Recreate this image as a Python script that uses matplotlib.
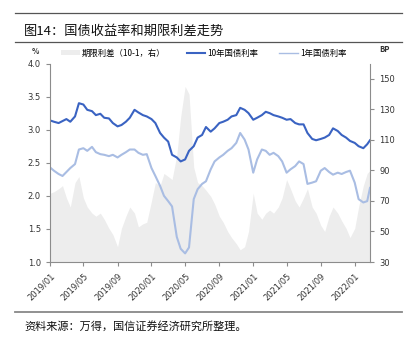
import matplotlib
matplotlib.use("Agg")
import matplotlib.pyplot as plt
import matplotlib.dates as mdates
from matplotlib.lines import Line2D
from matplotlib.patches import Patch
import pandas as pd

plt.rcParams['font.family'] = ['Noto Sans CJK SC', 'DejaVu Sans']

dates = list(pd.date_range('2019-01-01', '2022-02-15', freq='SMS')) + [pd.Timestamp('2022-02-25')]

ten_year = [3.14, 3.12, 3.10, 3.13, 3.16, 3.12, 3.20, 3.40, 3.38, 3.30,
            3.28, 3.22, 3.24, 3.18, 3.17, 3.10, 3.05, 3.07, 3.12, 3.18,
            3.30, 3.26, 3.22, 3.20, 3.16, 3.10, 2.95, 2.88, 2.82, 2.62,
            2.58, 2.52, 2.55, 2.68, 2.75, 2.88, 2.92, 3.04, 2.97, 3.02,
            3.10, 3.12, 3.15, 3.20, 3.22, 3.33, 3.30, 3.25, 3.15, 3.18,
            3.22, 3.27, 3.25, 3.22, 3.20, 3.18, 3.15, 3.16, 3.10, 3.08,
            3.08, 2.95, 2.86, 2.84, 2.86, 2.88, 2.92, 3.02, 2.98, 2.92,
            2.88, 2.83, 2.80, 2.75, 2.72, 2.78, 2.84]

one_year = [2.43, 2.38, 2.33, 2.30, 2.36, 2.42, 2.48, 2.70, 2.72, 2.68,
            2.74, 2.66, 2.63, 2.62, 2.60, 2.62, 2.58, 2.62, 2.66, 2.70,
            2.70, 2.65, 2.62, 2.63, 2.42, 2.30, 2.15, 2.00, 1.92, 1.84,
            1.38, 1.20, 1.13, 1.22, 1.95, 2.10, 2.18, 2.22, 2.40, 2.52,
            2.58, 2.62, 2.68, 2.72, 2.80, 2.95, 2.85, 2.70, 2.35, 2.55,
            2.70, 2.68, 2.62, 2.65, 2.60, 2.52, 2.35, 2.40, 2.45, 2.52,
            2.48, 2.18, 2.20, 2.22, 2.38, 2.42, 2.36, 2.32, 2.35, 2.33,
            2.36, 2.38, 2.20, 1.95, 1.90, 1.92, 2.12]

spread_bp = [75, 76, 78, 80, 72, 66, 82, 86, 72, 66,
             62, 60, 62, 58, 52, 48, 40, 52, 60, 66,
             62, 53, 55, 56, 70, 82, 80, 88, 86, 84,
             100, 125, 145, 140, 92, 82, 80, 77, 73, 68,
             60, 56, 50, 46, 42, 38, 40, 50, 75, 62,
             58, 62, 64, 62, 66, 72, 84, 78, 70, 66,
             72, 78, 66, 62, 54, 50, 60, 66, 62, 57,
             52, 46, 52, 66, 80, 88, 90]

tick_dates = pd.date_range('2019-01-01', '2022-01-01', freq='4MS')
tick_labels = [d.strftime('%Y/%m') for d in tick_dates]

left_ticks = [1.0, 1.5, 2.0, 2.5, 3.0, 3.5, 4.0]
right_ticks = [30, 50, 70, 90, 110, 130, 150]

c10 = '#3a63c2'
c1 = '#a9bde3'
cfill = '#ededed'
axis_c = '#8c8c8c'

fig = plt.figure(figsize=(4.1, 3.4), dpi=100)
ax = fig.add_axes([50/410, 1-262/340, 320/410, (262-63.5)/340])
ax2 = ax.twinx()

ax2.fill_between(dates, 30, spread_bp, color=cfill, linewidth=0, step=None)
ax2.set_ylim(30, 160)
ax2.set_yticks(right_ticks)

ax.plot(dates, ten_year, color=c10, linewidth=1.5)
ax.plot(dates, one_year, color=c1, linewidth=1.5)
ax.set_ylim(1.0, 4.0)
ax.set_yticks(left_ticks)
ax.set_yticklabels([f'{v:.1f}' for v in left_ticks])
ax.set_xlim(pd.Timestamp('2019-01-01'), pd.Timestamp('2022-02-25'))
ax.set_xticks(tick_dates)
ax.set_xticklabels(tick_labels, rotation=45, ha='right', rotation_mode='anchor')

ax.set_zorder(ax2.get_zorder() + 1)
ax.patch.set_visible(False)

for a in (ax, ax2):
    a.spines['top'].set_visible(False)
    for s in ('left', 'right', 'bottom'):
        a.spines[s].set_color(axis_c)
        a.spines[s].set_linewidth(0.8)
    a.tick_params(colors=axis_c, labelcolor='#333333', labelsize=6, length=3, width=0.8, direction='out')
ax.spines['right'].set_visible(False)
ax2.spines['left'].set_visible(False)
ax2.spines['bottom'].set_visible(False)
for lab in ax.get_xticklabels() + ax.get_yticklabels() + ax2.get_yticklabels():
    lab.set_family('DejaVu Sans')

# header / footer
fig.add_artist(Line2D([15/410, 402/410], [1-13/340, 1-13/340], color='#555555', linewidth=0.9))
fig.add_artist(Line2D([15/410, 402/410], [1-42/340, 1-42/340], color='#555555', linewidth=0.9))
fig.add_artist(Line2D([15/410, 402/410], [1-312/340, 1-312/340], color='#888888', linewidth=1.3))
fig.text(24/410, 1-31.5/340, '图14：国债收益率和期限利差走势', fontsize=9.5, va='center', ha='left', color='#111111')
fig.text(24/410, 1-326/340, '资料来源：万得，国信证券经济研究所整理。', fontsize=8, va='center', ha='left', color='#111111')
fig.text(35/410, 1-51/340, '%', fontsize=5.5, va='center', ha='center', color='#333333', fontweight='bold')
fig.text(385/410, 1-50/340, 'BP', fontsize=5.5, va='center', ha='center', color='#333333', fontweight='bold')

handles = [Patch(facecolor=cfill, edgecolor='none'),
           Line2D([], [], color=c10, linewidth=1.5),
           Line2D([], [], color=c1, linewidth=1.0)]
labels = ['期限利差（10-1，右）', '10年国债利率', '1年国债利率']
fig.legend(handles, labels, loc='center', bbox_to_anchor=(204/410, 1-53/340), ncol=3,
           frameon=False, fontsize=6, handlelength=2.2, handleheight=0.6, handletextpad=0.3,
           columnspacing=2.5, borderpad=0)

fig.savefig('out.png', dpi=100)
